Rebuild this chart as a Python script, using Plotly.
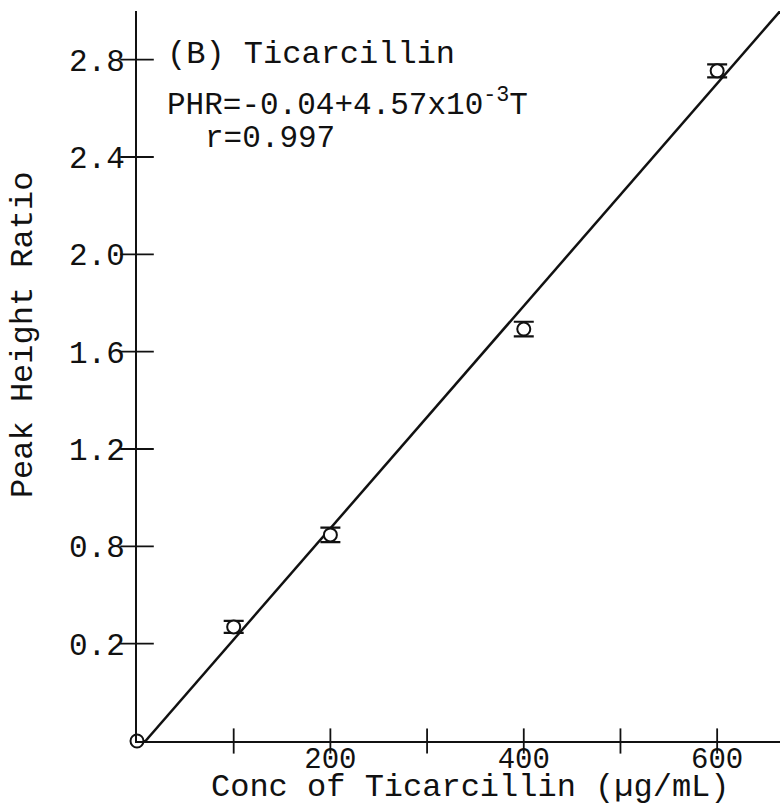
import plotly.graph_objects as go

# Calibration data: ticarcillin concentration vs. peak height ratio
conc = [0, 100, 200, 400, 600]                 # µg/mL
phr = [0.0, 0.469, 0.847, 1.693, 2.754]        # peak height ratio
phr_err = [0.0, 0.025, 0.03, 0.03, 0.027]

# Regression: PHR = a + b*T
intercept = -0.04
slope = 4.57e-3
r_value = 0.997

x_ticks = [100, 200, 300, 400, 500, 600]
x_label_vals = [200, 400, 600]
x_label_text = ["200", "400", "600"]
y_ticks = [0.4, 0.8, 1.2, 1.6, 2.0, 2.4, 2.8]
y_tick_text = ["0.2", "0.8", "1.2", "1.6", "2.0", "2.4", "2.8"]

X_MAX = 665
Y_MAX = 3.0

FONT = "Courier New, Liberation Mono, monospace"
INK = "#111111"

# fitted line from the x-intercept to the right edge of the plot
t0 = -intercept / slope
t1 = X_MAX
line_x = [t0, t1]
line_y = [intercept + slope * t for t in line_x]

fig = go.Figure()

fig.add_trace(go.Scatter(
    x=line_x, y=line_y, mode="lines",
    line=dict(color=INK, width=2.5),
    hoverinfo="skip", showlegend=False,
))

# tick marks crossing the axes
fig.add_trace(go.Scatter(
    x=x_ticks, y=[0] * len(x_ticks), mode="markers",
    marker=dict(symbol="line-ns", size=18, line=dict(color=INK, width=1.8)),
    cliponaxis=False, hoverinfo="skip", showlegend=False,
))
fig.add_trace(go.Scatter(
    x=[0] * len(y_ticks), y=y_ticks, mode="markers",
    marker=dict(symbol="line-ew", size=24, line=dict(color=INK, width=1.8)),
    cliponaxis=False, hoverinfo="skip", showlegend=False,
))

fig.add_trace(go.Scatter(
    x=conc, y=phr, mode="markers",
    marker=dict(symbol="circle", size=13, color="white",
                line=dict(color=INK, width=2)),
    error_y=dict(type="data", array=phr_err, visible=True,
                 color=INK, thickness=2.2, width=10),
    cliponaxis=False, hoverinfo="skip", showlegend=False,
))

fig.update_xaxes(
    range=[0, X_MAX], showgrid=False, zeroline=False,
    showline=True, linecolor=INK, linewidth=2,
    tickmode="array", tickvals=x_label_vals, ticktext=x_label_text,
    ticks="", ticklabelstandoff=-10,
    tickfont=dict(family=FONT, size=29, color=INK),
)
fig.update_yaxes(
    range=[0, Y_MAX], showgrid=False, zeroline=False,
    showline=True, linecolor=INK, linewidth=2,
    tickmode="array", tickvals=y_ticks, ticktext=y_tick_text,
    ticks="", ticklabelstandoff=4,
    tickfont=dict(family=FONT, size=31, color=INK),
)

def note(text, x, y, size=32, xanchor="left", angle=0):
    fig.add_annotation(
        text=text, x=x, y=y, xref="paper", yref="paper",
        xanchor=xanchor, yanchor="middle", showarrow=False,
        textangle=angle, font=dict(family=FONT, size=size, color=INK),
    )

note("(B) Ticarcillin", 0.0435, 0.9404)
note("PHR=-0.04+4.57x10<sup>-3</sup>T", 0.0435, 0.874, size=31)
note(f"r={r_value}", 0.1026, 0.8253, size=31)
note("Conc of Ticarcillin (\u00b5g/mL)", 0.518, -0.064, xanchor="center")
note("Peak Height Ratio", -0.1773, 0.556, xanchor="center", angle=-90)

fig.update_layout(
    width=780, height=809,
    margin=dict(l=137, r=0, t=11, b=68),
    paper_bgcolor="white", plot_bgcolor="white",
)

fig.write_html("out.html")
